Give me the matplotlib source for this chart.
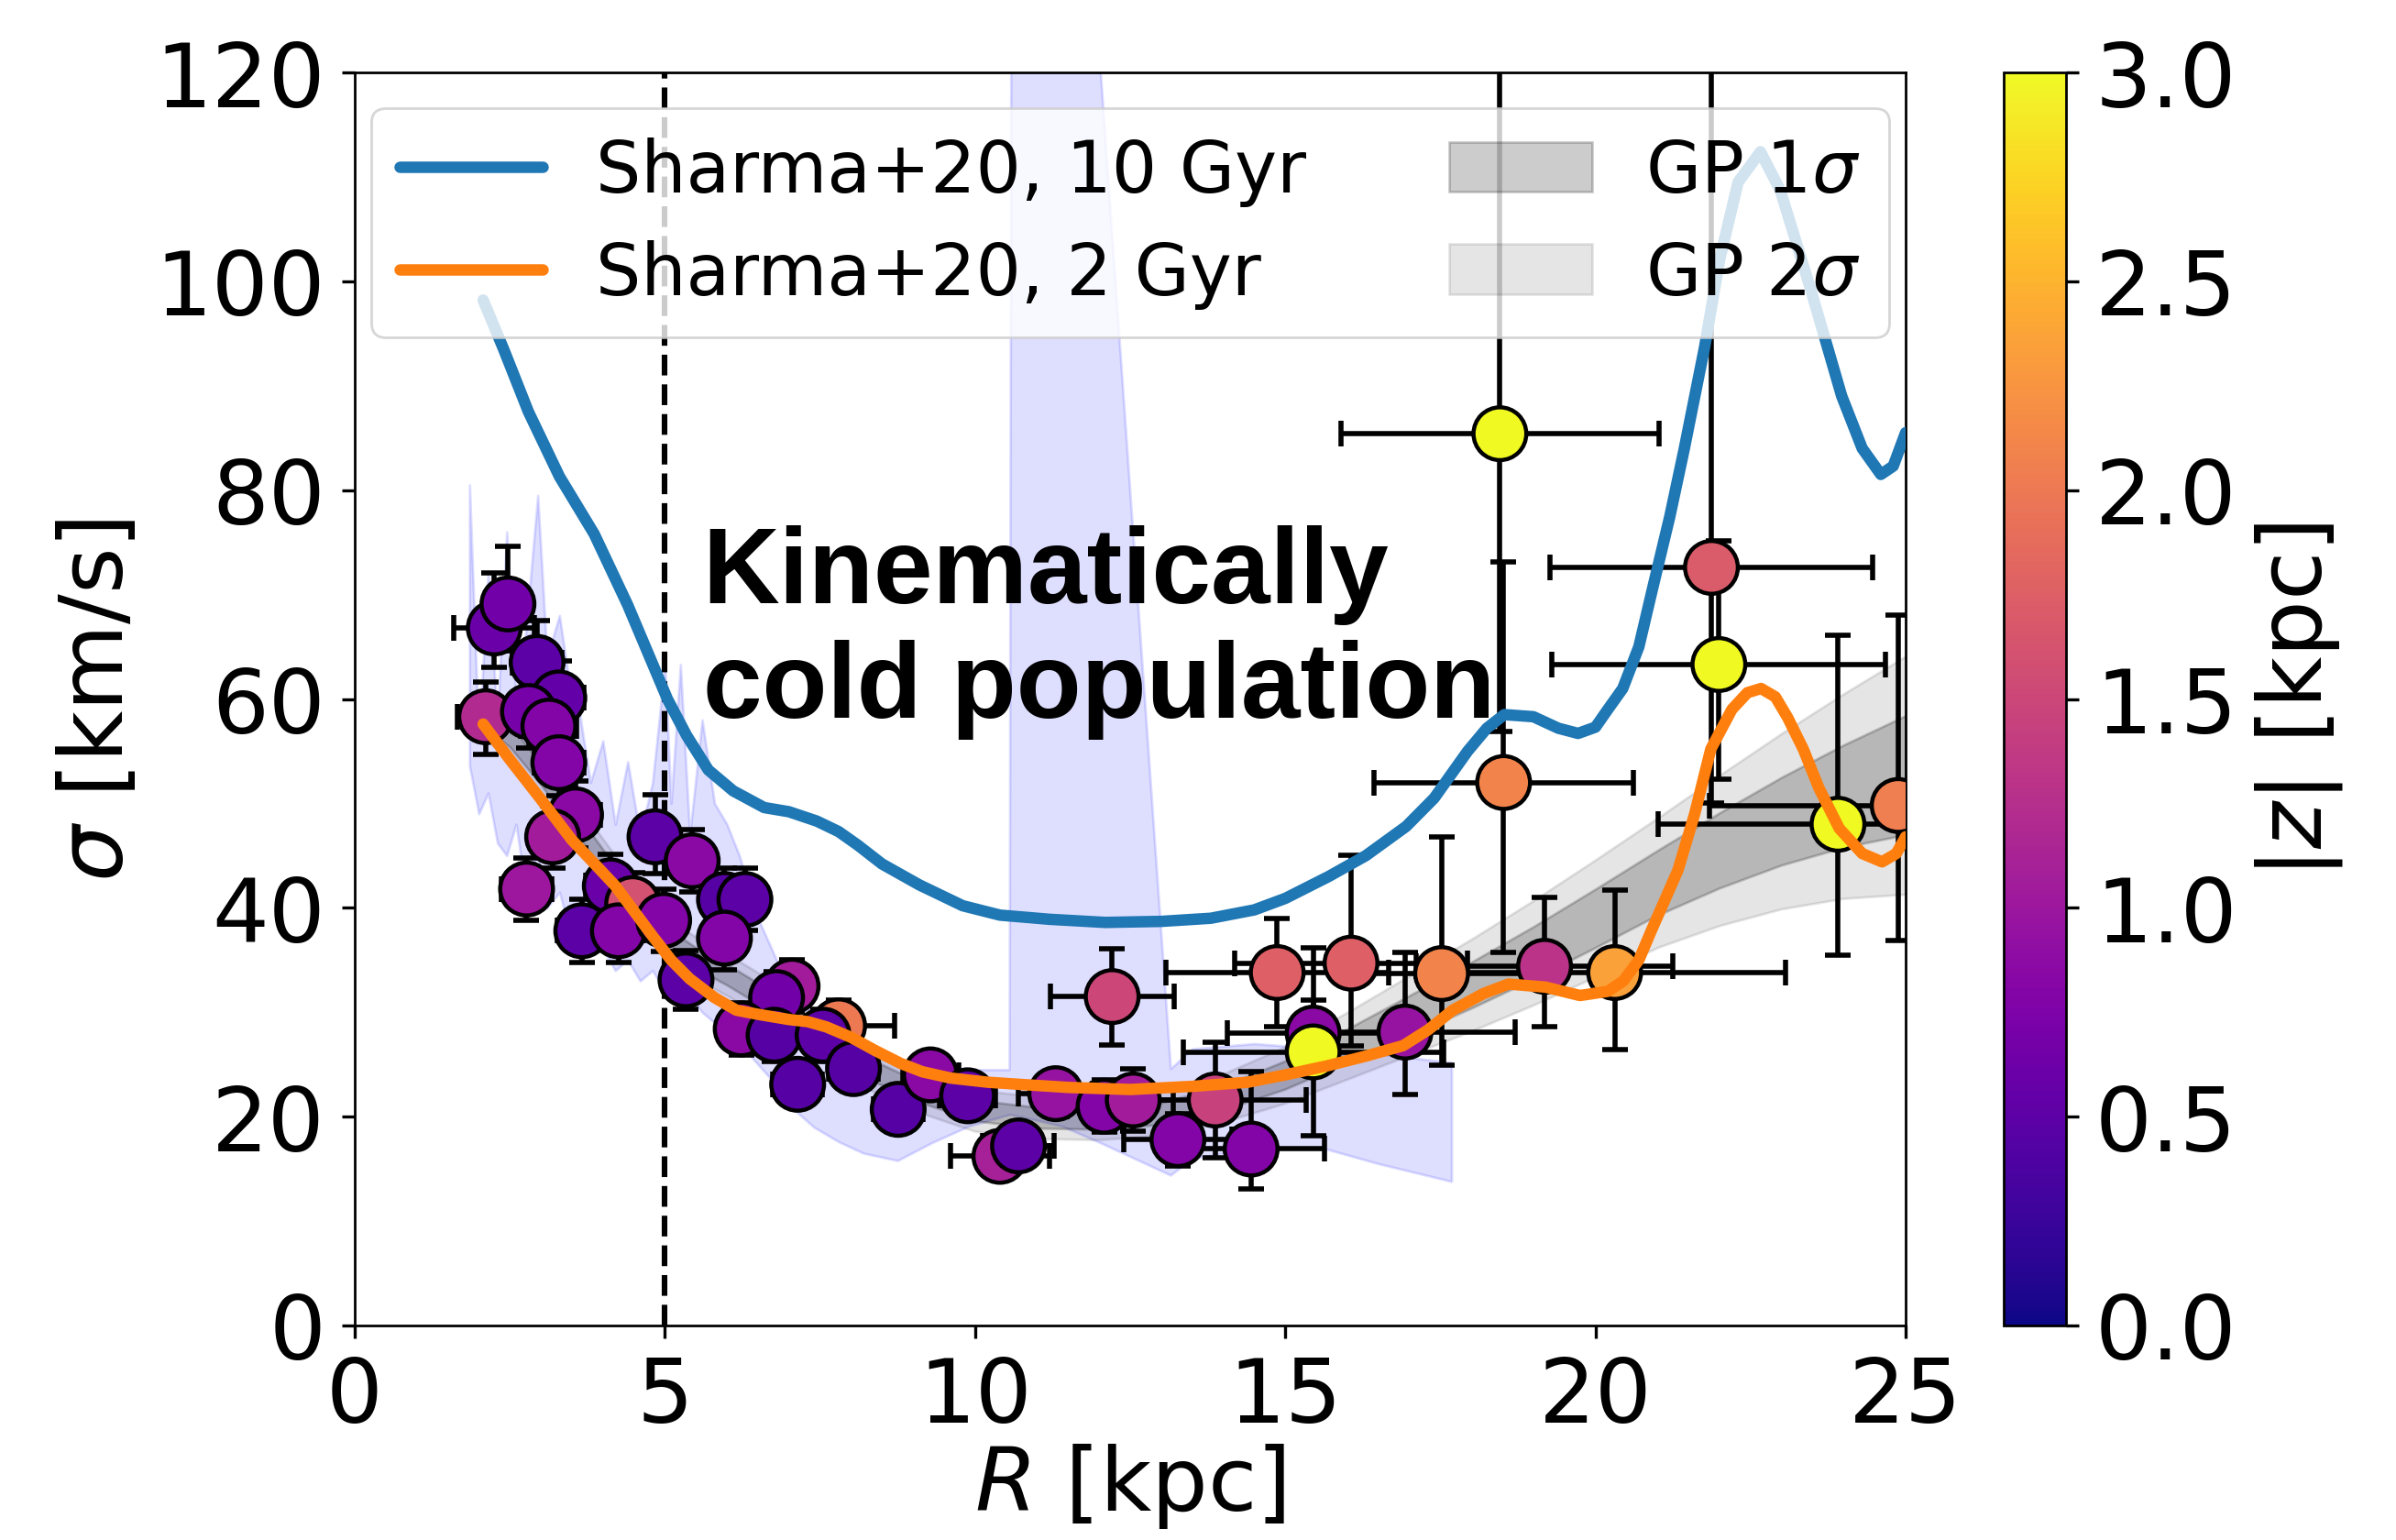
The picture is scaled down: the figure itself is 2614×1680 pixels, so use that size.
import numpy as np
import matplotlib
matplotlib.use('Agg')
import matplotlib.pyplot as plt

# ---------------- data ----------------
# individual measurements: R [kpc], sigma [km/s], |z| [kpc], x-error, y-error (low, high)
R_pts = [7.80, 2.11, 2.25, 2.47, 2.94, 3.29, 2.80, 3.13, 3.29, 3.56, 3.19,
         4.84, 5.44, 2.77, 4.12, 4.48, 5.96, 6.29, 3.66, 4.25, 4.98,
         5.96, 5.34, 7.05, 6.80, 6.23, 6.76, 7.55, 8.04, 7.14,
         8.76, 9.28, 9.88, 10.40, 10.70, 11.30, 12.08, 12.55, 12.21, 13.27,
         13.87, 14.45, 14.87, 15.45, 15.45, 16.06, 16.93, 17.52, 19.18, 20.31,
         18.46, 18.52, 21.87, 21.99, 23.91, 24.88]
sig_pts = [28.7, 58.3, 66.8, 69.1, 63.5, 60.1, 58.8, 57.4, 53.9, 48.9, 46.8,
           46.8, 44.5, 41.8, 42.1, 40.4, 40.8, 40.8, 37.8, 37.8, 38.8,
           37.1, 33.1, 32.5, 31.4, 28.4, 27.8, 27.8, 24.6, 23.1,
           20.7, 24.0, 22.0, 16.2, 17.2, 22.2, 21.0, 21.6, 31.5, 17.8,
           21.6, 16.9, 33.8, 28.0, 26.2, 34.7, 28.1, 33.7, 34.4, 33.8,
           85.4, 52.0, 72.6, 63.3, 48.0, 49.8]
z_pts = [2.00, 1.20, 0.60, 0.65, 0.50, 0.55, 0.70, 0.80, 0.80, 0.85, 1.05,
         0.50, 0.85, 1.00, 0.60, 1.60, 0.45, 0.50, 0.50, 0.80, 0.80,
         0.80, 0.50, 1.05, 0.65, 0.85, 0.45, 0.50, 0.45, 0.45,
         0.45, 0.85, 0.50, 1.10, 0.50, 0.95, 0.80, 1.05, 1.50, 0.80,
         1.45, 0.80, 1.75, 0.85, 3.00, 1.75, 0.95, 2.10, 1.30, 2.35,
         3.00, 2.10, 1.70, 3.00, 3.00, 2.05]
xerr_pts = [0.90, 0.45, 0.65, 0.35, 0.40, 0.40, 0.40, 0.45, 0.40, 0.40, 0.35,
            0.35, 0.35, 0.40, 0.40, 0.40, 0.35, 0.35, 0.40, 0.40, 0.35,
            0.35, 0.30, 0.35, 0.35, 0.35, 0.35, 0.40, 0.40, 0.40,
            0.40, 0.45, 0.45, 0.80, 0.58, 0.60, 0.60, 0.65, 1.00, 0.87,
            1.46, 1.18, 1.80, 1.38, 2.10, 1.88, 1.77, 1.50, 2.07, 2.76,
            2.56, 2.09, 2.60, 2.69, 2.90, 3.04]
yerr_lo = [2.5, 3.6, 3.8, 4.5, 4.0, 3.5, 3.5, 3.5, 3.2, 3.2, 3.0,
           3.5, 3.0, 3.0, 3.0, 3.0, 3.0, 3.0, 3.0, 3.0, 3.0,
           3.0, 2.8, 2.5, 2.5, 2.5, 2.5, 2.5, 2.0, 2.0,
           2.0, 2.0, 2.0, 2.0, 2.0, 2.0, 2.5, 3.0, 4.6, 2.5,
           5.5, 3.8, 5.2, 3.2, 8.0, 7.9, 6.0, 8.8, 5.8, 7.4,
           28.5, 16.3, 22.6, 11.0, 12.5, 12.9]
yerr_hi = [2.5, 3.3, 5.3, 5.5, 4.0, 3.5, 3.5, 3.5, 3.2, 3.2, 3.0,
           4.0, 3.0, 3.0, 3.0, 3.0, 3.0, 3.0, 3.0, 3.0, 3.0,
           3.0, 2.8, 2.5, 2.5, 2.5, 2.5, 2.5, 2.0, 2.0,
           2.0, 2.0, 2.0, 2.0, 2.0, 2.0, 2.5, 3.0, 4.6, 2.5,
           5.5, 7.4, 5.2, 3.2, 10.0, 10.3, 7.6, 13.1, 6.6, 7.9,
           40.0, 21.1, 50.0, 11.8, 18.1, 18.2]

# lavender band (bootstrap range)
band_R = [1.85, 2.0, 2.15, 2.3, 2.45, 2.6, 2.75, 2.95, 3.1, 3.3,
          3.5, 3.6, 3.8, 4.0, 4.2, 4.4, 4.6, 4.8, 5.0, 5.1,
          5.25, 5.4, 5.6, 5.8, 6.0, 6.2, 6.5, 6.8, 7.0, 7.4,
          7.8, 8.2, 8.75, 9.3, 9.9, 10.55, 10.58, 11.4, 12.02, 13.15,
          13.5, 14.5, 15.6, 16.5, 17.68]
band_hi = [80.5, 56, 72, 58, 76, 60, 66, 79.5, 64, 68,
           60, 59.6, 52, 56, 48, 54, 47, 52, 63.3, 50,
           63.3, 47, 58, 50, 48, 45, 39, 35, 33, 30,
           28, 26.5, 25.5, 25, 24.5, 24.5, 140, 140, 120, 24.6,
           26.5, 27, 26.5, 26, 25.2]
band_lo = [53.6, 49, 51, 46.2, 45, 48, 42, 45, 40, 41.5,
           37, 36.5, 35.5, 36, 34, 35, 33, 34, 32, 33.5,
           31, 31.5, 30, 29, 28, 27, 25, 23, 21.1, 19,
           17.6, 16.5, 15.8, 17.5, 19.1, 20.2, 20.2, 19.1, 17.5, 14.4,
           16, 17, 17, 15.5, 13.8]

# GP mean and 1-sigma width
gp_R = [2.1, 2.5, 3, 3.5, 4, 4.5, 5, 5.5, 6, 6.5, 7, 7.5, 8, 9, 10,
        11, 12, 13, 14, 15, 16, 17, 18, 19, 20, 21, 22, 23, 24, 25]
gp_mu = [58.5, 56.5, 52.8, 48.7, 44.6, 40.6, 37.2, 35.2, 33.6, 31.8, 29.7, 27.5, 25.4, 22.6, 20.6,
         19.9, 19.8, 20.3, 21.8, 24.0, 26.8, 29.7, 32.6, 35.7, 39.0, 42.4, 45.5, 48.3, 50.7, 52.7]
gp_sd = [1.2, 1.1, 1.0, 1.0, 1.0, 1.0, 1.0, 1.0, 1.0, 1.0, 1.0, 1.0, 1.0, 1.0, 1.0,
         1.0, 1.0, 1.05, 1.15, 1.35, 1.6, 1.9, 2.2, 2.5, 2.8, 3.1, 3.6, 4.2, 4.9, 5.7]

# Sharma+20 models
blue_R = [2.07, 2.4, 2.8, 3.3, 3.86, 4.4, 5.04, 5.35, 5.7, 6.1,
          6.6, 7.0, 7.45, 7.8, 8.11, 8.5, 9.1, 9.8, 10.4, 11.2,
          12.1, 13.0, 13.8, 14.5, 15.0, 15.7, 16.3, 16.95, 17.4, 17.94,
          18.25, 18.53, 19.0, 19.4, 19.72, 20.0, 20.2, 20.44, 20.7, 20.91,
          21.2, 21.43, 21.76, 22.0, 22.3, 22.66, 22.98, 23.47, 23.74, 23.97,
          24.3, 24.6, 24.8, 25.0]
blue_s = [98.2, 93.5, 87.5, 81.3, 75.8, 69.0, 60.0, 56.5, 53.2, 51.2,
          49.6, 49.2, 48.3, 47.3, 46.0, 44.2, 42.2, 40.2, 39.3, 38.9,
          38.6, 38.7, 39.0, 39.8, 40.9, 43.0, 45.0, 47.8, 50.5, 55.0,
          57.2, 58.5, 58.3, 57.2, 56.7, 57.3, 59.0, 61.0, 65.0, 70.3,
          77.5, 83.9, 93.7, 102.0, 109.5, 112.4, 108.7, 99.2, 93.7, 89.0,
          84.0, 81.5, 82.3, 85.5]
orange_R = [2.07, 2.5, 3.0, 3.5, 3.9, 4.2, 4.5, 4.8, 5.1, 5.4,
            5.8, 6.15, 6.5, 7.0, 7.3, 7.6, 8.0, 8.4, 8.8, 9.15,
            9.6, 10.2, 10.7, 11.5, 12.5, 13.5, 14.4, 15.0, 15.7, 16.3,
            16.9, 17.3, 17.7, 18.2, 18.6, 19.2, 19.75, 20.2, 20.45, 20.7,
            20.9, 21.1, 21.33, 21.6, 21.86, 22.2, 22.45, 22.67, 22.9, 23.1,
            23.35, 23.6, 23.93, 24.3, 24.62, 24.85, 25.0]
orange_s = [57.6, 54.2, 50.4, 46.5, 44.0, 42.1, 39.7, 37.3, 35.0, 33.2,
            31.4, 30.2, 29.8, 29.3, 29.1, 28.6, 27.6, 26.3, 25.1, 24.3,
            23.7, 23.3, 23.1, 22.8, 22.6, 22.9, 23.3, 24.0, 24.9, 25.8,
            26.8, 28.3, 30.2, 31.8, 32.7, 32.4, 31.6, 32.0, 33.0, 35.0,
            37.8, 40.5, 43.6, 49.0, 55.2, 59.0, 60.6, 61.0, 60.2, 58.2,
            55.2, 51.5, 47.6, 45.2, 44.4, 45.2, 46.8]

x_ticks = [0, 5, 10, 15, 20, 25]
y_ticks = [0, 20, 40, 60, 80, 100, 120]
cb_ticks = [0.0, 0.5, 1.0, 1.5, 2.0, 2.5, 3.0]
R_cut = 5.0

# ---------------- figure ----------------
plt.rcParams['font.family'] = ['DejaVu Sans']
plt.rcParams['mathtext.fontset'] = 'dejavusans'
plt.rcParams['lines.solid_capstyle'] = 'round'

W, H, DPI = 2614, 1681, 200
fig = plt.figure(figsize=(W / DPI, H / DPI), dpi=DPI)
ax = fig.add_axes([387 / W, 1 - 1447 / H, (2079 - 387) / W, (1447 - 80) / H])
cax = fig.add_axes([2186 / W, 1 - 1447 / H, (2254 - 2186) / W, (1447 - 80) / H])

ax.fill_between(band_R, band_lo, band_hi, color='blue', alpha=0.13, lw=1, zorder=1)
ax.axvline(R_cut, color='k', ls='--', lw=2.2, zorder=1.5)

ax.errorbar(R_pts, sig_pts, xerr=xerr_pts, yerr=[yerr_lo, yerr_hi], fmt='none',
            ecolor='k', elinewidth=2.0, capsize=5, capthick=2.0, zorder=2)

mu = np.array(gp_mu)
sd = np.array(gp_sd)
f2 = ax.fill_between(gp_R, mu - 2 * sd, mu + 2 * sd, color='k', alpha=0.1, lw=1, zorder=2.5)
f1 = ax.fill_between(gp_R, mu - sd, mu + sd, color='k', alpha=0.2, lw=1, zorder=2.5)

sc = ax.scatter(R_pts, sig_pts, c=z_pts, cmap='plasma', vmin=0, vmax=3, s=430,
                edgecolors='k', linewidths=1.6, zorder=3)

l1, = ax.plot(blue_R, blue_s, color='#1f77b4', lw=4.5, zorder=5)
l2, = ax.plot(orange_R, orange_s, color='#ff7f0e', lw=4.5, zorder=5)

ax.set_xlim(0, 25)
ax.set_ylim(0, 120)
ax.set_xticks(x_ticks)
ax.set_yticks(y_ticks)
ax.tick_params(labelsize=35, length=5, width=1.2, pad=6.5)
for s in ax.spines.values():
    s.set_linewidth(1.0)

ax.set_xlabel('$R$ [kpc]', fontsize=35, va='top')
ax.xaxis.set_label_coords(0.5, -0.092)
ax.set_ylabel('$\\sigma$ [km/s]', fontsize=35, va='center')
ax.yaxis.set_label_coords(-0.165, 0.5)

leg = ax.legend([l1, l2, f1, f2],
                ['Sharma+20, 10 Gyr', 'Sharma+20, 2 Gyr', 'GP 1$\\sigma$', 'GP 2$\\sigma$'],
                ncol=2, loc='upper center', fontsize=28, handlelength=2.0,
                columnspacing=2.0, labelspacing=0.46, handletextpad=0.75,
                borderaxespad=0.5, framealpha=0.8)
leg.set_zorder(10)

txt_kw = dict(fontsize=41.8, fontweight='bold', family=['Liberation Sans', 'DejaVu Sans'],
              va='baseline', ha='left', zorder=6)
ax.text(5.61, 69.3, 'Kinematically', **txt_kw)
ax.text(5.61, 58.3, 'cold population', **txt_kw)

cb = fig.colorbar(sc, cax=cax)
cb.set_ticks(cb_ticks)
cb.set_ticklabels(['%.1f' % t for t in cb_ticks])
cb.ax.tick_params(labelsize=35, length=5, width=1.2, pad=6.5)
cb.outline.set_linewidth(1.0)
cb.set_label('$|z|$ [kpc]', fontsize=35, va='center')
cb.ax.yaxis.set_label_coords(4.74, 0.5)

fig.savefig('out.png', dpi=DPI)
